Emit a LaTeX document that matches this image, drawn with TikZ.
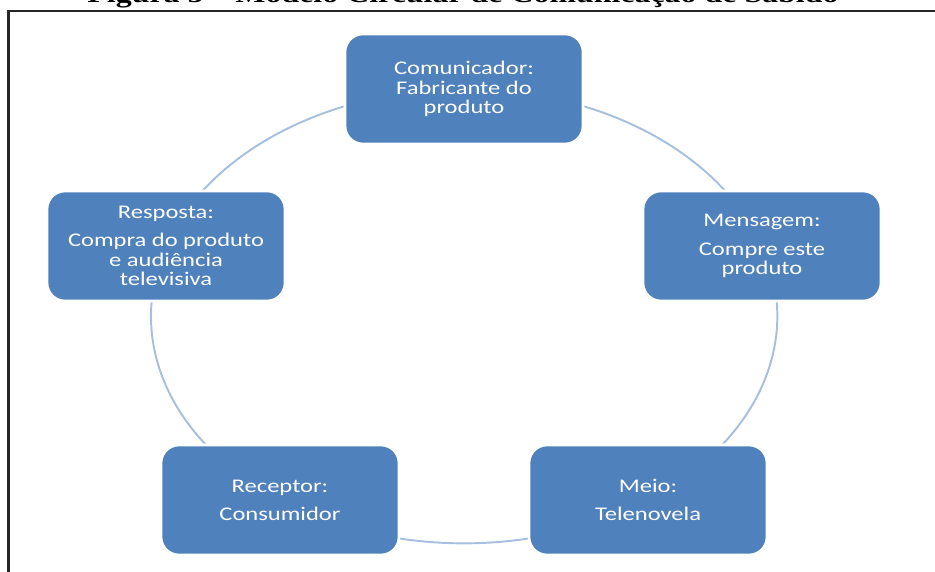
\documentclass[tikz,border=0pt]{standalone}
\usepackage{fontspec}
\setmainfont{Carlito}
\newfontfamily\boxfont[FakeStretch=1.27]{Carlito}
\newfontfamily\titlefont[FakeStretch=1.27]{Liberation Serif}
\usepackage{tikz}
\usetikzlibrary{backgrounds}
\definecolor{caixa}{RGB}{79,129,189}
\definecolor{anel}{RGB}{167,191,222}

\begin{document}
\begin{tikzpicture}[x=0.02cm, y=0.02cm,
        etapa/.style={rectangle, rounded corners=0.36cm, fill=caixa, draw=white, line width=1.5pt,
            minimum width=4.76cm, minimum height=2.2cm, inner sep=0pt, text=white, align=center,
            font=\boxfont\fontsize{11}{11}\selectfont},
        anel/.style={draw=anel, line width=1.1pt}]
        \useasboundingbox (0,0) rectangle (935,-571);

        % Titulo e moldura
        \node[anchor=base, inner sep=0pt, font=\titlefont\bfseries\fontsize{14.3}{16}\selectfont] (titulo) at (463,-3) {Figura 5 – Modelo Circular de Comunicação de Sabido};
        \draw[black!85, line width=1.7pt] (8.5,-640) |- (1000,-11);

        % Etapas do ciclo
        \node[etapa] (comunicador) at (464, -89) {Comunicador:\\Fabricante do\\produto};
        \node[etapa] (mensagem) at (762, -246) {Mensagem:\\[5pt]Compre este\\produto};
        \node[etapa] (meio) at (648, -500) {Meio:\\[5pt]Telenovela};
        \node[etapa] (receptor) at (280, -500) {Receptor:\\[5pt]Consumidor};
        \node[etapa] (resposta) at (166, -246) {Resposta:\\[5pt]Compra do produto\\e audiência\\televisiva};

        \begin{pgfonlayer}{background}
            \draw[anel] (comunicador.center) arc[start angle=90, end angle=18, x radius=6.26cm, y radius=4.54cm];
            \draw[anel] (mensagem.center) arc[start angle=18, end angle=-54, x radius=6.26cm, y radius=4.54cm];
            \draw[anel] (meio.center) arc[start angle=-54, end angle=-126, x radius=6.26cm, y radius=4.54cm];
            \draw[anel] (receptor.center) arc[start angle=-126, end angle=-198, x radius=6.26cm, y radius=4.54cm];
            \draw[anel] (resposta.center) arc[start angle=162, end angle=90, x radius=6.26cm, y radius=4.54cm];
        \end{pgfonlayer}
    \end{tikzpicture}
\end{document}
